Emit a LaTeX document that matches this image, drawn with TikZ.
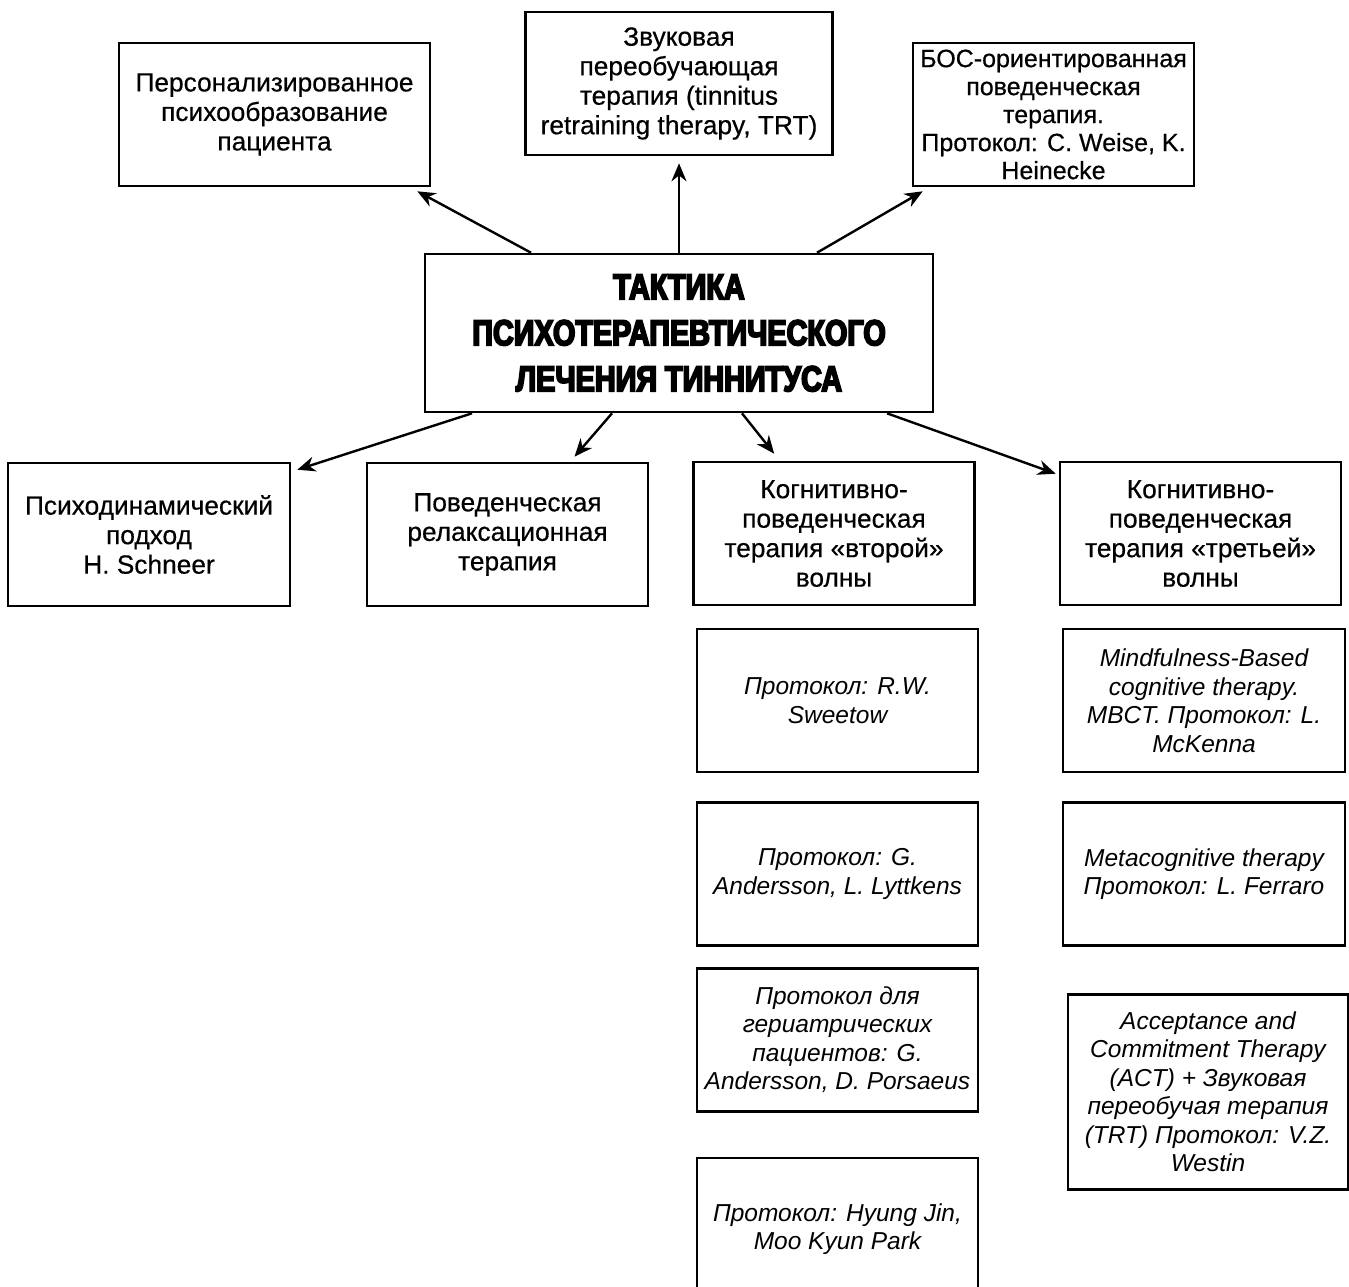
\documentclass[tikz,border=0pt]{standalone}
\usepackage{fontspec}
\setmainfont{Liberation Sans}[UprightFeatures={FakeBold=0.5}]
\newfontfamily\titlefont{Liberation Sans}[FakeStretch=0.8,BoldFeatures={FakeBold=5}]
\usepackage{tikz}
\usetikzlibrary{positioning, arrows.meta}

\begin{document}
\begin{tikzpicture}[
				x=1pt, y=-1pt,
				->,
				>={Stealth[length=18pt,width=15pt]},
				line width=2.4pt,
				node distance=28pt,
				box/.style={draw, line width=2.6pt, rectangle, align=center, inner sep=0pt,
					minimum width=281pt, minimum height=143pt,
					font=\fontsize{26.3}{29.5}\selectfont},
				protocol/.style={box, font=\fontsize{24.5}{28.5}\selectfont\itshape}]

			\useasboundingbox (0,0) rectangle (1349,1286);

			\node[box, minimum width=508pt, minimum height=158pt, font=\titlefont\bfseries\fontsize{36}{46}\selectfont] (tactic) at (679,333)
				{ТАКТИКА\\ПСИХОТЕРАПЕВТИЧЕСКОГО\\ЛЕЧЕНИЯ ТИННИТУСА};

			% upper row
			\node[box, minimum width=311pt] (psychoeducation) at (274.5,114.5) {Персонализированное\\психообразование\\пациента};
			\node[box, minimum width=307pt] (sound_therapy) at (679,83.5) {Звуковая\\переобучающая\\терапия (tinnitus\\retraining therapy, TRT)};
			\node[box, font=\fontsize{25}{28}\selectfont] (biofeedback) at (1053.5,114.5) {БОС-ориентированная\\поведенческая\\терапия.\\Протокол: C. Weise, K.\\Heinecke};

			% lower row
			\node[box, minimum width=282pt] (psychodynamic) at (149,534.5) {Психодинамический\\подход\\H. Schneer};
			\node[box] (relaxation) at (507.5,534.5) {Поведенческая\\релаксационная\\терапия};
			\node[box] (cbt_second) at (834,533.5) {Когнитивно-\\поведенческая\\терапия «второй»\\волны};
			\node[box] (cbt_third) at (1200.5,533.5) {Когнитивно-\\поведенческая\\терапия «третьей»\\волны};

			% protocols of the second wave
			\node[protocol] (sweetow) at (837.5,700.5) {Протокол: R.W.\\Sweetow};
			\node[protocol, below=28pt of sweetow] (andersson_lyttkens) {Протокол: G.\\Andersson, L. Lyttkens};
			\node[protocol, below=20pt of andersson_lyttkens] (geriatric) {Протокол для\\гериатрических\\пациентов: G.\\Andersson, D. Porsaeus};
			\node[protocol, below=44pt of geriatric] (hyung_jin) {Протокол: Hyung Jin,\\Moo Kyun Park};

			% protocols of the third wave
			\node[protocol, minimum width=282pt] (mbct) at (1204,700.5) {Mindfulness-Based\\cognitive therapy.\\MBCT. Протокол: L.\\McKenna};
			\node[protocol, minimum width=282pt, below=28pt of mbct] (metacognitive) {Metacognitive therapy\\Протокол: L. Ferraro};
			\node[protocol, minimum width=280pt, minimum height=195pt, below=46pt of metacognitive, xshift=4pt] (act_trt)
				{Acceptance and\\Commitment Therapy\\(ACT) + Звуковая\\переобучая терапия\\(TRT) Протокол: V.Z.\\Westin};

			\draw ([xshift=-148pt]tactic.north) -- ([xshift=-14pt,yshift=-4pt]psychoeducation.south east);
			\draw (tactic.north) -- ([yshift=-7pt]sound_therapy.south);
			\draw ([xshift=138pt]tactic.north) -- ([xshift=11pt,yshift=-4pt]biofeedback.south west);

			\draw ([xshift=-207pt]tactic.south) -- ([xshift=6pt,yshift=-8pt]psychodynamic.north east);
			\draw ([xshift=-67pt]tactic.south) -- ([xshift=67pt,yshift=5pt]relaxation.north);
			\draw ([xshift=63pt]tactic.south) -- ([xshift=82pt,yshift=7pt]cbt_second.north west);
			\draw ([xshift=208pt]tactic.south) -- ([xshift=-3pt,yshift=-13pt]cbt_third.north west);

		\end{tikzpicture}
\end{document}
